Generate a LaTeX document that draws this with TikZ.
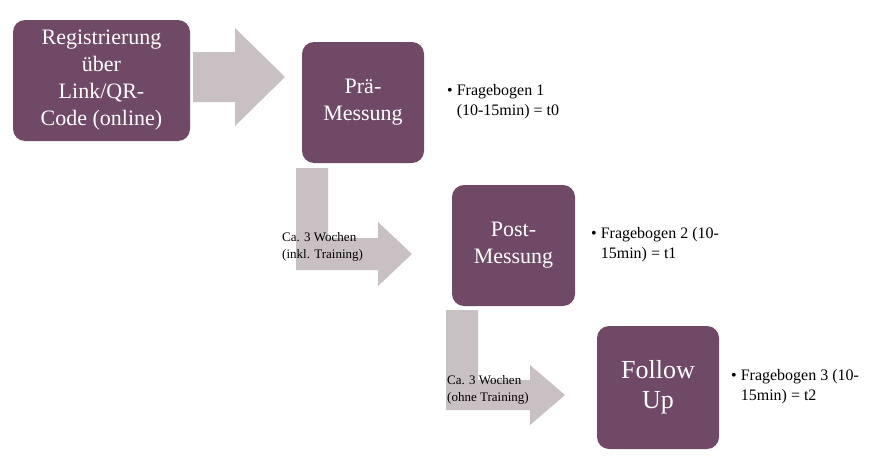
\documentclass[tikz,border=0pt]{standalone}
\usepackage{fontspec}
\setmainfont{Liberation Serif}
\begin{document}
\begin{tikzpicture}[x=1pt,y=-1pt,
  box/.style={fill=plum,rounded corners=12pt,text=white,align=center,inner sep=0pt},
  arr/.style={fill=arrowgray},
  bul/.style={anchor=north west,align=left,font=\fontsize{16}{20}\selectfont,inner sep=0pt},
  lab/.style={anchor=north west,align=left,font=\fontsize{13}{17}\selectfont,inner sep=0pt}]
\definecolor{plum}{HTML}{704966}
\definecolor{arrowgray}{HTML}{C9C0C4}
\useasboundingbox (0,0) rectangle (894,471);
% arrows
\fill[arr] (193,52)--(235,52)--(235,28)--(285,77)--(235,126)--(235,102)--(193,102)--cycle;
\fill[arr] (296,168)--(328,168)--(328,238)--(378,238)--(378,222)--(412,254)--(378,286)--(378,270)--(296,270)--cycle;
\fill[arr] (446,310)--(478,310)--(478,380)--(530,380)--(530,365)--(565,395)--(530,425)--(530,410)--(446,410)--cycle;
% boxes
\node[box,minimum width=177pt,minimum height=121pt,font=\fontsize{22}{27}\selectfont] (reg) at (101.5,80.5) {Registrierung\\über\\Link/QR-\\Code (online)};
\node[box,minimum width=122pt,minimum height=121pt,font=\fontsize{22}{27}\selectfont] (pre) at (363,102.5) {Prä-\\Messung};
\node[box,minimum width=123pt,minimum height=121pt,font=\fontsize{22}{27}\selectfont] (post) at (513.5,245.5) {Post-\\Messung};
\node[box,minimum width=122pt,minimum height=123pt,font=\fontsize{26}{30}\selectfont] (fu) at (658,387.5) {Follow\\Up};
% labels
\node[lab] (l1) at (282,232) {Ca. 3 Wochen\\(inkl. Training)};
\node[lab] (l2) at (447,375) {Ca. 3 Wochen\\(ohne Training)};
\node[bul] (b1) at (447,84) {\textbullet\ Fragebogen 1\\\phantom{\textbullet\ }(10-15min) = t0};
\node[bul] (b2) at (591,227) {\textbullet\ Fragebogen 2 (10-\\\phantom{\textbullet\ }15min) = t1};
\node[bul] (b3) at (731,369) {\textbullet\ Fragebogen 3 (10-\\\phantom{\textbullet\ }15min) = t2};
\end{tikzpicture}
\end{document}
